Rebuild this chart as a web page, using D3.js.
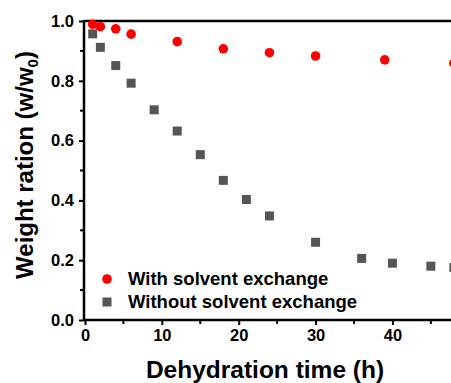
<!DOCTYPE html>
<html><head><meta charset="utf-8">
<script src="https://cdn.jsdelivr.net/npm/d3@7"></script>
<style>body{margin:0;background:#fff}svg{display:block}text{font-family:"Liberation Sans",Arial,sans-serif;font-weight:bold}</style>
</head><body>
<script>
const timeWith = [1, 2, 4, 6, 12, 18, 24, 30, 39, 48];
const ratioWith = [0.989, 0.981, 0.974, 0.956, 0.931, 0.907, 0.894, 0.883, 0.870, 0.859];
const timeWithout = [1, 2, 4, 6, 9, 12, 15, 18, 21, 24, 30, 36, 40, 45, 48];
const ratioWithout = [0.957, 0.912, 0.851, 0.792, 0.703, 0.632, 0.553, 0.467, 0.403, 0.348, 0.260, 0.206, 0.190, 0.180, 0.176];
const xTicks = [0, 10, 20, 30, 40];
const yTicks = [0.0, 0.2, 0.4, 0.6, 0.8, 1.0];
const seriesNames = ["With solvent exchange", "Without solvent exchange"];

const W = 451, H = 383;
const svg = d3.select("body").append("svg").attr("width", W).attr("height", H);
const x = d3.scaleLinear().domain([0, 48]).range([85, 453.9]);
const y = d3.scaleLinear().domain([0, 1]).range([320, 21]);

const xMinor = d3.range(5, 48, 10);
const yMinor = d3.range(0.1, 1.0, 0.2);

const gx = svg.append("g").attr("transform", "translate(0,320)")
  .call(d3.axisBottom(x).tickValues(xTicks).tickFormat(d3.format("d")).tickSizeOuter(0).tickSize(5).tickPadding(4));
gx.select(".domain").remove();
gx.selectAll("line").attr("stroke", "#000").attr("stroke-width", 2);
gx.selectAll("text").attr("font-size", 16.5).attr("fill", "#000");
svg.append("g").selectAll("line").data(xMinor).join("line")
  .attr("x1", d => x(d)).attr("x2", d => x(d)).attr("y1", 320).attr("y2", 324)
  .attr("stroke", "#000").attr("stroke-width", 2);

const gy = svg.append("g").attr("transform", "translate(84,0)")
  .call(d3.axisLeft(y).tickValues(yTicks).tickFormat(d3.format(".1f")).tickSizeOuter(0).tickSize(5).tickPadding(5));
gy.select(".domain").remove();
gy.selectAll("line").attr("stroke", "#000").attr("stroke-width", 2);
gy.selectAll("text").attr("font-size", 16.5).attr("fill", "#000");
svg.append("g").selectAll("line").data(yMinor).join("line")
  .attr("x1", 80).attr("x2", 84).attr("y1", d => y(d)).attr("y2", d => y(d))
  .attr("stroke", "#000").attr("stroke-width", 2);

svg.append("line").attr("x1", 84).attr("x2", W).attr("y1", 320).attr("y2", 320).attr("stroke", "#000").attr("stroke-width", 2.5);
svg.append("line").attr("x1", 84).attr("x2", W).attr("y1", 21).attr("y2", 21).attr("stroke", "#000").attr("stroke-width", 2.5);
svg.append("line").attr("x1", 84).attr("x2", 84).attr("y1", 20).attr("y2", 321).attr("stroke", "#000").attr("stroke-width", 2.5);

svg.append("g").selectAll("rect").data(timeWithout).join("rect")
  .attr("x", (d) => x(d) - 4.5).attr("y", (d, i) => y(ratioWithout[i]) - 4.5)
  .attr("width", 9).attr("height", 9).attr("fill", "#555");
svg.append("g").selectAll("circle").data(timeWith).join("circle")
  .attr("cx", d => x(d)).attr("cy", (d, i) => y(ratioWith[i])).attr("r", 4.8).attr("fill", "#ff0000");

const lg = svg.append("g");
lg.append("circle").attr("cx", 107).attr("cy", 279).attr("r", 4.8).attr("fill", "#ff0000");
lg.append("rect").attr("x", 102.5).attr("y", 297.5).attr("width", 9).attr("height", 9).attr("fill", "#555");
lg.append("text").attr("x", 128).attr("y", 285).attr("font-size", 18.5).text(seriesNames[0]);
lg.append("text").attr("x", 128).attr("y", 308).attr("font-size", 18.5).text(seriesNames[1]);

svg.append("text").attr("x", 265).attr("y", 378).attr("text-anchor", "middle").attr("font-size", 24.5).text("Dehydration time (h)");
const yt = svg.append("text").attr("transform", "translate(33,165) rotate(-90)").attr("text-anchor", "middle").attr("font-size", 24);
yt.append("tspan").text("Weight ration (w/w");
yt.append("tspan").attr("font-size", 15).attr("dy", 5).text("0");
yt.append("tspan").attr("dy", -5).text(")");
</script>
</body></html>
